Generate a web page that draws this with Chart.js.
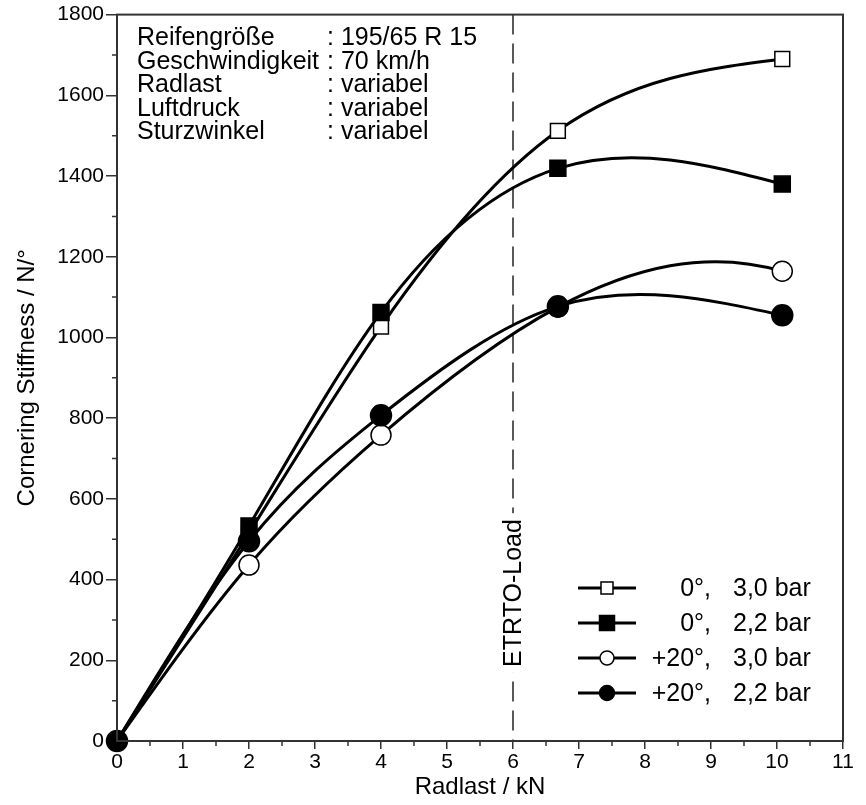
<!DOCTYPE html>
<html>
<head>
<meta charset="utf-8">
<script src="https://cdn.jsdelivr.net/npm/chart.js@4"></script>
<style>
  html, body { margin: 0; padding: 0; background: #fff; }
  #wrap { width: 866px; height: 805px; }
</style>
</head>
<body>
<div id="wrap"><canvas id="c"></canvas></div>
<script>
// Radlast in kN
const radlast = [0, 2, 4, 6.68, 10.08];
// Cornering stiffness in N/°
const stiff0_30 = [0, 515, 1027, 1512, 1690];
const stiff0_22 = [0, 533, 1062, 1419, 1380];
const stiff20_30 = [0, 436, 758, 1075, 1164];
const stiff20_22 = [0, 495, 807, 1077, 1055];

const seriesLabels = [['0°,', '3,0 bar'], ['0°,', '2,2 bar'], ['+20°,', '3,0 bar'], ['+20°,', '2,2 bar']];
const infoLines = [
  ['Reifengröße', ': 195/65 R 15'],
  ['Geschwindigkeit', ': 70 km/h'],
  ['Radlast', ': variabel'],
  ['Luftdruck', ': variabel'],
  ['Sturzwinkel', ': variabel'],
];
const etrtoLoad = 6;

const FONT = "'Liberation Sans', Arial, sans-serif";
const TICKFONT = "'Liberation Sans Narrow', 'Arial Narrow', 'Liberation Sans', Arial, sans-serif";
const INK = '#000';
const AXIS = '#333';

function pts(ys) {
  return radlast.map((x, i) => ({ x, y: ys[i] }));
}

const markers = [
  { style: 'rect', radius: 10.5, fill: '#fff' },
  { style: 'rect', radius: 11.3, fill: INK },
  { style: 'circle', radius: 10, fill: '#fff' },
  { style: 'circle', radius: 10.5, fill: INK },
];

// endMode: how the spline ends at the last point ('natural' or 'notaknot')
function makeSet(ys, m, order, showOrigin, endMode) {
  return {
    data: pts(ys),
    endMode,
    borderColor: INK,
    borderWidth: 3,
    tension: 0.4,
    clip: false,
    pointStyle: m.style,
    pointRadius: (ctx) => (ctx.dataIndex === 0 && !showOrigin ? 0 : m.radius),
    pointBackgroundColor: m.fill,
    pointBorderColor: INK,
    pointBorderWidth: 1.5,
    order,
  };
}

function solve(A, d) {
  const n = d.length;
  for (let i = 0; i < n; i++) {
    let p = i;
    for (let r = i + 1; r < n; r++) if (Math.abs(A[r][i]) > Math.abs(A[p][i])) p = r;
    [A[i], A[p]] = [A[p], A[i]];
    [d[i], d[p]] = [d[p], d[i]];
    for (let r = i + 1; r < n; r++) {
      const f = A[r][i] / A[i][i];
      for (let k = i; k < n; k++) A[r][k] -= f * A[i][k];
      d[r] -= f * d[i];
    }
  }
  const x = new Array(n).fill(0);
  for (let i = n - 1; i >= 0; i--) {
    let s = d[i];
    for (let k = i + 1; k < n; k++) s -= A[i][k] * x[k];
    x[i] = s / A[i][i];
  }
  return x;
}

// cubic spline slopes (data space), natural start
function splineSlopes(xs, ys, endMode) {
  const n = xs.length;
  const h = [];
  for (let i = 0; i < n - 1; i++) h.push(xs[i + 1] - xs[i]);
  const A = [], d = [];
  for (let i = 0; i < n; i++) { A.push(new Array(n).fill(0)); d.push(0); }
  A[0][0] = 1;
  for (let i = 1; i < n - 1; i++) {
    A[i][i - 1] = h[i - 1];
    A[i][i] = 2 * (h[i - 1] + h[i]);
    A[i][i + 1] = h[i];
    d[i] = 6 * ((ys[i + 1] - ys[i]) / h[i] - (ys[i] - ys[i - 1]) / h[i - 1]);
  }
  if (endMode === 'notaknot') {
    const m = n - 2;
    A[n - 1][m - 1] = -h[m];
    A[n - 1][m] = h[m - 1] + h[m];
    A[n - 1][m + 1] = -h[m - 1];
  } else {
    A[n - 1][n - 1] = 1;
  }
  const M = solve(A, d);
  const out = [];
  for (let i = 0; i < n - 1; i++) {
    const s = (ys[i + 1] - ys[i]) / h[i];
    out.push({
      d0: s - h[i] * (2 * M[i] + M[i + 1]) / 6,
      d1: s + h[i] * (M[i] + 2 * M[i + 1]) / 6,
    });
  }
  return out;
}

const splinePlugin = {
  id: 'spline',
  beforeDatasetDraw(chart, args) {
    const meta = args.meta;
    const ds = chart.data.datasets[args.index];
    const xs = ds.data.map((p) => p.x);
    const ys = ds.data.map((p) => p.y);
    const sx = chart.scales.x, sy = chart.scales.y;
    meta.dataset.updateControlPoints(chart.chartArea, 'x');
    const sl = splineSlopes(xs, ys, ds.endMode);
    const el = meta.data;
    for (let i = 0; i < xs.length - 1; i++) {
      const h = (xs[i + 1] - xs[i]) / 3;
      el[i].cp2x = sx.getPixelForValue(xs[i] + h);
      el[i].cp2y = sy.getPixelForValue(ys[i] + h * sl[i].d0);
      el[i + 1].cp1x = sx.getPixelForValue(xs[i + 1] - h);
      el[i + 1].cp1y = sy.getPixelForValue(ys[i + 1] - h * sl[i].d1);
    }
    meta.dataset._path = undefined;
  },
};

const extras = {
  id: 'extras',
  beforeDatasetsDraw(chart) {
    const { ctx, chartArea: a, scales } = chart;
    const x6 = scales.x.getPixelForValue(etrtoLoad);
    ctx.save();
    ctx.strokeStyle = '#222';
    ctx.lineWidth = 1.5;
    ctx.setLineDash([20, 9]);
    ctx.beginPath();
    ctx.moveTo(x6, a.top);
    ctx.lineTo(x6, a.bottom);
    ctx.stroke();
    ctx.setLineDash([]);
    // label on the line
    ctx.translate(x6, 593);
    ctx.rotate(-Math.PI / 2);
    ctx.font = '25px ' + FONT;
    const w = ctx.measureText('ETRTO-Load').width;
    ctx.fillStyle = '#fff';
    ctx.fillRect(-w / 2 - 6, -14, w + 12, 28);
    ctx.fillStyle = INK;
    ctx.textAlign = 'center';
    ctx.textBaseline = 'middle';
    ctx.fillText('ETRTO-Load', 0, 1);
    ctx.restore();
  },
  afterDraw(chart) {
    const { ctx, chartArea: a, scales } = chart;
    ctx.save();
    // frame
    ctx.strokeStyle = AXIS;
    ctx.lineWidth = 2;
    ctx.strokeRect(a.left, a.top, a.right - a.left, a.bottom - a.top);
    // minor ticks
    ctx.lineWidth = 1.5;
    ctx.beginPath();
    for (let v = 100; v < 1800; v += 200) {
      const y = scales.y.getPixelForValue(v);
      ctx.moveTo(a.left - 5, y);
      ctx.lineTo(a.left, y);
    }
    for (let v = 0.5; v < 11; v += 1) {
      const x = scales.x.getPixelForValue(v);
      ctx.moveTo(x, a.bottom);
      ctx.lineTo(x, a.bottom + 5);
    }
    ctx.stroke();

    // info block
    ctx.fillStyle = INK;
    ctx.font = '25px ' + FONT;
    ctx.textBaseline = 'alphabetic';
    infoLines.forEach((l, i) => {
      const y = 45 + i * 23.5;
      ctx.fillText(l[0], 137, y);
      ctx.fillText(l[1], 327, y);
    });

    // legend
    const rows = [588, 623, 658, 693];
    const legMarks = [
      { style: 'rect', r: 6, fill: '#fff' },
      { style: 'rect', r: 7.5, fill: INK },
      { style: 'circle', r: 7, fill: '#fff' },
      { style: 'circle', r: 7.5, fill: INK },
    ];
    ctx.font = '25px ' + FONT;
    rows.forEach((y, i) => {
      ctx.strokeStyle = INK;
      ctx.lineWidth = 3;
      ctx.beginPath();
      ctx.moveTo(578, y);
      ctx.lineTo(636, y);
      ctx.stroke();
      const m = legMarks[i];
      ctx.lineWidth = 1.5;
      ctx.fillStyle = m.fill;
      ctx.beginPath();
      if (m.style === 'rect') {
        ctx.rect(607 - m.r, y - m.r, 2 * m.r, 2 * m.r);
      } else {
        ctx.arc(607, y, m.r, 0, Math.PI * 2);
      }
      ctx.fill();
      ctx.stroke();
      ctx.fillStyle = INK;
      ctx.textBaseline = 'middle';
      ctx.textAlign = 'right';
      ctx.fillText(seriesLabels[i][0], 711, y + 1);
      ctx.textAlign = 'left';
      ctx.fillText(seriesLabels[i][1], 733, y + 1);
    });
    ctx.restore();
  },
};

new Chart(document.getElementById('c'), {
  type: 'line',
  data: {
    datasets: [
      makeSet(stiff20_22, markers[3], 0, true, 'natural'),
      makeSet(stiff0_22, markers[1], 1, false, 'natural'),
      makeSet(stiff20_30, markers[2], 2, false, 'notaknot'),
      makeSet(stiff0_30, markers[0], 3, false, 'natural'),
    ],
  },
  options: {
    responsive: true,
    maintainAspectRatio: false,
    animation: false,
    layout: { padding: { left: 0, top: 14, right: 23, bottom: 0 } },
    plugins: { legend: { display: false }, tooltip: { enabled: false } },
    elements: { line: { capBezierPoints: false } },
    scales: {
      x: {
        type: 'linear',
        min: 0,
        max: 11,
        afterFit: (s) => { s.height = 64; },
        border: { color: AXIS, width: 2 },
        grid: { drawOnChartArea: false, tickLength: 8, color: AXIS, lineWidth: 1.5 },
        ticks: { stepSize: 1, color: INK, padding: 1, font: { family: TICKFONT, size: 21 } },
        title: { display: true, text: 'Radlast / kN', color: INK, padding: { top: 0, bottom: 3 }, font: { family: FONT, size: 24 } },
      },
      y: {
        type: 'linear',
        min: 0,
        max: 1800,
        afterFit: (s) => { s.width = 117; },
        border: { color: AXIS, width: 2 },
        grid: { drawOnChartArea: false, tickLength: 11, color: AXIS, lineWidth: 1.5 },
        ticks: {
          stepSize: 200,
          color: INK,
          padding: 2,
          font: { family: TICKFONT, size: 21 },
          callback: (v) => String(v),
        },
        title: { display: true, text: 'Cornering Stiffness / N/°', color: INK, padding: { top: 13, bottom: 0 }, font: { family: FONT, size: 24 } },
      },
    },
  },
  plugins: [splinePlugin, extras],
});
</script>
</body>
</html>
